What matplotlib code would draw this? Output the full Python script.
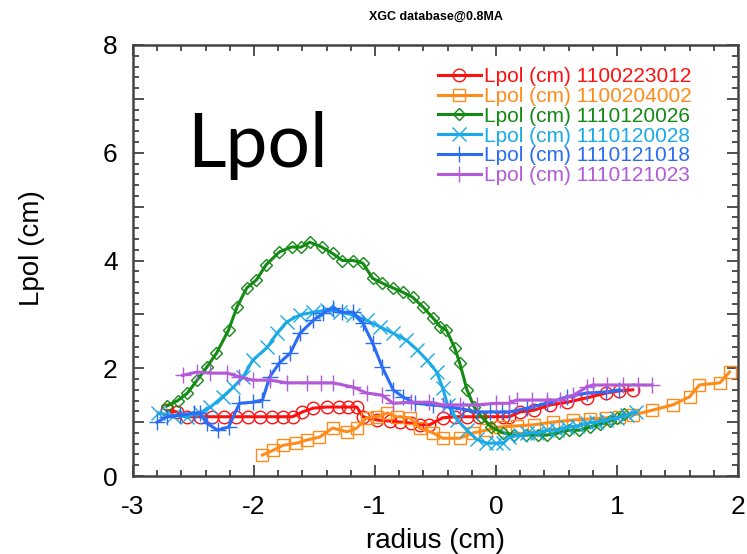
import matplotlib.pyplot as plt
from matplotlib.ticker import MultipleLocator

# radius (cm) / Lpol (cm) for each shot
x_012 = [-2.72, -2.64, -2.55, -2.45, -2.35, -2.25, -2.15, -2.05, -1.95, -1.85, -1.76, -1.68,
         -1.6, -1.51, -1.4, -1.3, -1.22, -1.15, -1.1, -0.98, -0.88, -0.79, -0.7, -0.63,
         -0.55, -0.44, -0.34, -0.24, -0.14, -0.04, 0.06, 0.11, 0.2, 0.31, 0.45, 0.59,
         0.75, 0.91, 1.02, 1.13]
y_012 = [1.22, 1.19, 1.1, 1.1, 1.1, 1.1, 1.1, 1.1, 1.1, 1.1, 1.1, 1.1,
         1.19, 1.26, 1.28, 1.28, 1.28, 1.28, 1.1, 1.04, 1.02, 1.0, 0.98, 0.95,
         0.95, 1.08, 1.1, 1.1, 1.1, 1.1, 1.1, 1.1, 1.19, 1.22, 1.32, 1.37,
         1.45, 1.54, 1.58, 1.6]

x_002 = [-1.93, -1.84, -1.76, -1.65, -1.56, -1.46, -1.35, -1.23, -1.15, -1.07, -0.98, -0.9,
         -0.82, -0.71, -0.63, -0.52, -0.44, -0.3, -0.19, -0.08, 0.03, 0.17, 0.31, 0.47,
         0.64, 0.78, 0.91, 1.02, 1.13, 1.29, 1.46, 1.6, 1.68, 1.85, 1.93]
y_002 = [0.39, 0.48, 0.57, 0.61, 0.67, 0.72, 0.89, 0.82, 0.89, 1.08, 1.1, 1.17,
         1.1, 1.08, 0.89, 0.8, 0.7, 0.7, 0.8, 0.85, 0.91, 0.93, 0.95, 1.0,
         1.04, 1.06, 1.08, 1.1, 1.13, 1.22, 1.32, 1.47, 1.69, 1.73, 1.93]

x_026 = [-2.72, -2.63, -2.55, -2.47, -2.39, -2.31, -2.21, -2.14, -2.06, -1.98, -1.9, -1.79,
         -1.69, -1.61, -1.54, -1.44, -1.35, -1.27, -1.18, -1.1, -1.02, -0.94, -0.85, -0.77,
         -0.69, -0.6, -0.52, -0.46, -0.41, -0.34, -0.3, -0.24, -0.18, -0.12, -0.04, 0.06,
         0.15, 0.25, 0.35, 0.42, 0.52, 0.6, 0.69, 0.78, 0.86, 0.94, 1.0, 1.06]
y_026 = [1.3, 1.4, 1.54, 1.78, 2.02, 2.28, 2.71, 3.14, 3.49, 3.64, 3.92, 4.16,
         4.25, 4.25, 4.34, 4.25, 4.13, 4.0, 4.0, 3.95, 3.67, 3.58, 3.49, 3.41,
         3.32, 3.13, 2.93, 2.77, 2.71, 2.37, 2.1, 1.6, 1.28, 1.1, 0.91, 0.8,
         0.76, 0.76, 0.76, 0.76, 0.8, 0.85, 0.85, 0.91, 0.96, 1.02, 1.08, 1.15]

x_028 = [-2.79, -2.67, -2.55, -2.45, -2.36, -2.26, -2.17, -2.09, -2.01, -1.89, -1.81, -1.73,
         -1.62, -1.51, -1.4, -1.29, -1.18, -1.07, -0.96, -0.85, -0.74, -0.65, -0.57, -0.49,
         -0.44, -0.4, -0.32, -0.24, -0.16, -0.08, 0.0, 0.06, 0.11, 0.2, 0.26, 0.34,
         0.42, 0.5, 0.59, 0.67, 0.75, 0.83, 0.91, 1.0, 1.08, 1.16]
y_028 = [1.17, 1.12, 1.1, 1.17, 1.28, 1.47, 1.65, 1.84, 2.15, 2.39, 2.65, 2.86,
         2.99, 3.04, 3.08, 3.04, 2.99, 2.89, 2.77, 2.65, 2.52, 2.34, 2.15, 1.93,
         1.63, 1.32, 1.04, 0.85, 0.68, 0.61, 0.61, 0.61, 0.72, 0.76, 0.8, 0.8,
         0.85, 0.85, 0.91, 0.93, 0.98, 1.0, 1.04, 1.08, 1.13, 1.19]

x_018 = [-2.8, -2.72, -2.61, -2.5, -2.45, -2.39, -2.3, -2.21, -2.12, -2.01, -1.93, -1.87,
         -1.79, -1.7, -1.62, -1.51, -1.43, -1.35, -1.27, -1.18, -1.1, -1.02, -0.94, -0.85,
         -0.77, -0.67, -0.52, -0.38, -0.27, -0.16, -0.05, 0.05, 0.11, 0.26, 0.42, 0.59,
         0.75, 0.91, 1.02]
y_018 = [1.0, 1.1, 1.13, 1.17, 1.17, 0.98, 0.85, 0.91, 1.35, 1.37, 1.41, 1.84,
         2.1, 2.28, 2.65, 2.89, 3.02, 3.12, 3.04, 3.04, 2.84, 2.47, 2.02, 1.6,
         1.47, 1.35, 1.32, 1.28, 1.24, 1.19, 1.19, 1.19, 1.19, 1.26, 1.35, 1.47,
         1.54, 1.56, 1.6]

x_023 = [-2.59, -2.47, -2.36, -2.22, -2.12, -2.01, -1.87, -1.73, -1.56, -1.45, -1.35, -1.18,
         -1.07, -0.94, -0.85, -0.7, -0.55, -0.44, -0.3, -0.16, 0.0, 0.11, 0.17, 0.3,
         0.42, 0.53, 0.64, 0.75, 0.8, 0.92, 1.05, 1.17, 1.29]
y_023 = [1.87, 1.93, 1.91, 1.91, 1.84, 1.78, 1.78, 1.73, 1.73, 1.73, 1.73, 1.65,
         1.54, 1.5, 1.35, 1.37, 1.37, 1.32, 1.32, 1.32, 1.35, 1.35, 1.41, 1.41,
         1.41, 1.41, 1.5, 1.65, 1.69, 1.69, 1.69, 1.69, 1.69]

shots = ["1100223012", "1100204002", "1110120026", "1110120028", "1110121018", "1110121023"]
xs = [x_012, x_002, x_026, x_028, x_018, x_023]
ys = [y_012, y_002, y_026, y_028, y_018, y_023]
colors = ["#ff1010", "#ff8c1a", "#138a13", "#1aaae8", "#2b6cf5", "#b25ad8"]
markers = ["o", "s", "D", "x", "+", "+"]
msizes = [9, 9, 6.5, 9.5, 11, 11]

plt.rcParams['font.family'] = ['Liberation Sans', 'DejaVu Sans']
plt.rcParams['axes.unicode_minus'] = False

fig = plt.figure(figsize=(7.47, 5.54), dpi=100)
ax = fig.add_axes([133 / 747, 1 - 476 / 554, 605 / 747, 431 / 554])

for i in range(len(shots)):
    ax.plot(xs[i], ys[i], color=colors[i], lw=2.2, marker=markers[i], ms=msizes[i],
            mfc='none', mec=colors[i], mew=1.0,
            label="Lpol (cm) " + shots[i])

ax.set_xlim(-3, 2)
ax.set_ylim(0, 8)
ax.xaxis.set_major_locator(MultipleLocator(1))
ax.xaxis.set_minor_locator(MultipleLocator(0.2))
ax.yaxis.set_major_locator(MultipleLocator(1))
ax.yaxis.set_minor_locator(MultipleLocator(0.2))
ax.set_yticks([0, 1, 2, 3, 4, 5, 6, 7, 8])
ax.set_yticklabels(["0", "", "2", "", "4", "", "6", "", "8"])
ax.tick_params(which='both', direction='in', top=True, right=True, color='#333333',
               labelsize=19, width=1.2)
ax.tick_params(which='major', length=8)
ax.tick_params(which='minor', length=4)
ax.tick_params(axis='x', which='major', pad=14)
ax.tick_params(axis='y', which='major', pad=11)
for s in ax.spines.values():
    s.set_color('#444444')
    s.set_linewidth(1.8)

ax.set_xlabel("radius (cm)", fontsize=20, labelpad=6)
ax.set_ylabel("Lpol (cm)", fontsize=20)
ax.yaxis.set_label_coords(-0.145, 0.529)
ax.set_title("XGC database@0.8MA", fontsize=9, fontweight='bold', pad=18)

leg = ax.legend(loc='upper left', bbox_to_anchor=(438 / 747, 1 - 67 / 554),
                bbox_transform=fig.transFigure, frameon=False, fontsize=15,
                handlelength=2.05, handletextpad=0.15, labelspacing=0.04,
                borderpad=0, borderaxespad=0)
for t, c in zip(leg.get_texts(), colors):
    t.set_color(c)

fig.text(187 / 747, 1 - 167 / 554, "Lpol", fontsize=54, family='Lato', va='baseline')

fig.savefig("out.png", dpi=100)
